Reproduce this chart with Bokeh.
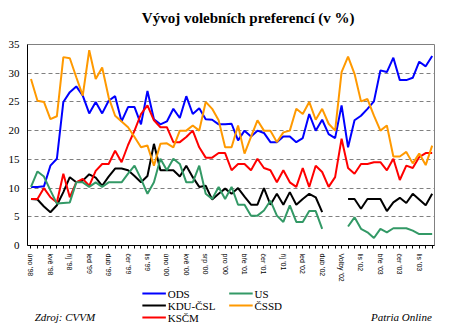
from bokeh.plotting import figure
from bokeh.layouts import column
from bokeh.models import Range1d, FixedTicker
from bokeh.core.properties import value
from bokeh.embed import file_html
from bokeh.resources import INLINE
import numpy as np

nan = float("nan")

tick_labels = ["úno '98", "kvě '98", "říj '98", "led '99", "dub '99", "čer '99", "lis '99",
               "úno '00", "kvě '00", "srp '00", "pro '00", "bře '01", "čer '01", "říj '01",
               "led '02", "dub '02", "Volby '02", "lis '02", "bře '03", "čer '03", "lis '03"]

ods = [10.2, 10.2, 10.3, 13.9, 15.1, 25.0, 26.7, 27.7, 26.1, 23.0,
       25.0, 23.0, 25.2, 26.0, 21.6, 24.1, 24.1, 21.1, 26.9, 22.0,
       21.1, 21.6, 23.8, 22.2, 26.0, 22.9, 23.9, 22.0, 21.9, 21.1,
       21.1, 21.2, 18.3, 20.0, 19.0, 20.0, 19.6, 18.0, 18.0, 19.0,
       19.0, 18.0, 18.7, 22.9, 20.0, 21.9, 19.4, 18.7, 24.4, 17.1,
       21.8, 22.6, 23.8, 25.1, 30.5, 30.2, 32.7, 28.8, 28.8, 29.2,
       32.0, 31.2, 33.0]
cssd = [29.0, 25.2, 25.0, 22.0, 22.5, 32.8, 32.6, 29.3, 26.1, 34.0,
        29.0, 31.0, 25.8, 22.6, 21.6, 20.6, 18.9, 17.1, 17.4, 13.9,
        17.7, 17.8, 17.1, 20.0, 20.0, 20.9, 20.0, 25.0, 23.8, 21.8,
        17.1, 17.1, 20.9, 16.0, 18.9, 21.8, 20.0, 20.0, 18.0, 19.7,
        20.0, 23.8, 22.9, 25.0, 21.9, 23.8, 21.2, 20.0, 30.2, 32.9,
        29.9, 25.1, 25.5, 22.6, 20.0, 20.9, 15.5, 15.5, 16.3, 14.3,
        16.0, 14.0, 17.4]
kscm = [8.1, 8.1, 10.0, 8.4, 7.5, 12.5, 8.4, 11.0, 11.6, 10.4,
        13.0, 14.2, 14.2, 16.5, 14.5, 17.5, 20.0, 22.9, 24.4, 21.8,
        20.6, 20.6, 18.0, 18.0, 18.9, 20.0, 17.1, 15.3, 15.3, 16.1,
        16.1, 13.1, 14.2, 14.2, 13.1, 15.1, 13.5, 13.1, 11.0, 13.1,
        11.0, 10.2, 13.5, 10.2, 13.9, 12.8, 10.2, 11.9, 18.6, 13.5,
        12.5, 14.2, 14.2, 14.5, 14.5, 13.1, 15.1, 11.4, 13.9, 13.5,
        15.4, 16.1, 16.1]
kdu = [8.1, 8.0, 6.8, 5.8, 7.0, 9.3, 11.9, 11.0, 11.3, 12.4,
       11.8, 10.4, 12.0, 13.4, 13.4, 13.1, 12.1, 11.0, 12.1, 17.7,
       13.1, 13.1, 13.1, 12.0, 13.9, 11.9, 10.2, 10.4, 8.0, 9.0,
       9.9, 9.0, 10.0, 8.5, 7.1, 7.1, 10.0, 7.1, 9.0, 7.1,
       9.3, 7.1, 8.1, 9.0, 8.4, 5.8, nan, nan, nan, 8.1,
       8.1, 6.4, 8.1, 8.1, 8.1, 6.0, 7.5, 8.3, 7.4, 9.0,
       8.0, 7.0, 9.0]
us = [10.2, 12.9, 12.0, 9.6, 7.3, 7.4, 7.5, 11.0, 11.0, 10.2,
      11.0, 10.2, 11.0, 11.0, 11.0, 12.5, 13.9, 11.6, 9.0, 11.0,
      15.1, 13.1, 15.1, 14.2, 11.0, 11.0, 13.9, 9.0, 8.1, 10.2,
      8.1, 10.2, 7.1, 7.1, 5.2, 5.2, 6.1, 7.8, 5.2, 4.1,
      7.0, 4.1, 4.1, 6.0, 6.0, 2.9, nan, nan, nan, 3.3,
      4.9, 2.9, 2.3, 1.3, 2.9, 2.3, 3.0, 3.0, 3.0, 2.6,
      2.0, 2.0, 2.0]

series_names = ["ODS", "KDU-ČSL", "KSČM", "US", "ČSSD"]
series_values = [ods, kdu, kscm, us, cssd]
series_colors = ["#0000FF", "#000000", "#FF0000", "#339966", "#FF9900"]

n = len(ods)
x = list(range(n))
label_step = 3

SERIF = "Liberation Serif"
W = 450

# ---------------- header (title) ----------------
head = figure(width=W, height=36, output_backend="svg", toolbar_location=None,
              x_range=Range1d(0, W), y_range=Range1d(36, 0),
              x_axis_location=None, y_axis_location=None,
              min_border=0, min_border_left=0, min_border_right=0,
              min_border_top=0, min_border_bottom=0)
head.grid.visible = False
head.outline_line_color = None
head.text(x=[244], y=[17], text=["Vývoj volebních preferencí (v %)"],
          text_font=value(SERIF), text_font_size="15px", text_font_style="bold",
          text_align="center", text_baseline="middle", text_color="black")

# ---------------- main chart ----------------
p = figure(width=W, height=250, output_backend="svg", toolbar_location=None,
           x_range=Range1d(-0.54, n - 1 + 0.36), y_range=Range1d(0, 35),
           min_border_left=27, min_border_right=16, min_border_top=8, min_border_bottom=41)
p.background_fill_color = "white"
p.border_fill_color = "white"
p.outline_line_color = "#808080"
p.outline_line_width = 1

p.xgrid.grid_line_color = None
p.ygrid.grid_line_color = "#808080"
p.ygrid.grid_line_dash = "4 3"
p.ygrid.grid_line_width = 1

p.yaxis.ticker = FixedTicker(ticks=[0, 5, 10, 15, 20, 25, 30, 35])
p.yaxis.major_tick_out = 0
p.yaxis.major_tick_in = 0
p.yaxis.minor_tick_out = 0
p.yaxis.minor_tick_in = 0
p.yaxis.major_label_standoff = 8
p.yaxis.major_label_text_font = SERIF
p.yaxis.major_label_text_font_size = "11px"
p.yaxis.major_label_text_color = "black"
p.yaxis.axis_line_color = "black"

p.xaxis.ticker = FixedTicker(ticks=x)
overrides = {i: "" for i in x}
for k, t in enumerate(tick_labels):
    overrides[k * label_step] = t
p.xaxis.major_label_overrides = overrides
p.xaxis.major_label_orientation = "vertical"
p.xaxis.major_tick_out = 3
p.xaxis.major_tick_in = 0
p.xaxis.minor_tick_out = 0
p.xaxis.major_label_standoff = 5
p.xaxis.major_label_text_font = "Liberation Sans"
p.xaxis.major_label_text_font_size = "7px"
p.xaxis.major_label_text_color = "black"
p.xaxis.axis_line_color = "black"

for name, vals, color in zip(series_names, series_values, series_colors):
    p.line(x, np.array(vals, dtype=float), line_color=color, line_width=2)

# ---------------- footer (legend + source) ----------------
foot = figure(width=W, height=44, output_backend="svg", toolbar_location=None,
              x_range=Range1d(0, W), y_range=Range1d(44, 0),
              x_axis_location=None, y_axis_location=None,
              min_border=0, min_border_left=0, min_border_right=0,
              min_border_top=0, min_border_bottom=0)
foot.grid.visible = False
foot.outline_line_color = None

col_x = [127, 127, 127, 223, 223]
row_y = [7, 19, 31, 7, 19]
for name, color, cx, ry in zip(series_names, series_colors, col_x, row_y):
    foot.segment(x0=[cx], y0=[ry], x1=[cx + 26], y1=[ry], line_color=color, line_width=2)
    foot.text(x=[cx + 28], y=[ry], text=[name], text_font=value(SERIF),
              text_font_size="11px", text_align="left", text_baseline="middle",
              text_color="black")

foot.text(x=[8], y=[30], text=["Zdroj: CVVM"], text_font=value(SERIF),
          text_font_size="11px", text_font_style="italic", text_align="left",
          text_baseline="middle", text_color="black")
foot.text(x=[447], y=[30], text=["Patria Online"], text_font=value(SERIF),
          text_font_size="11px", text_font_style="italic", text_align="right",
          text_baseline="middle", text_color="black")

layout = column(head, p, foot, spacing=0)
open("out.html", "w").write(file_html(layout, INLINE))
